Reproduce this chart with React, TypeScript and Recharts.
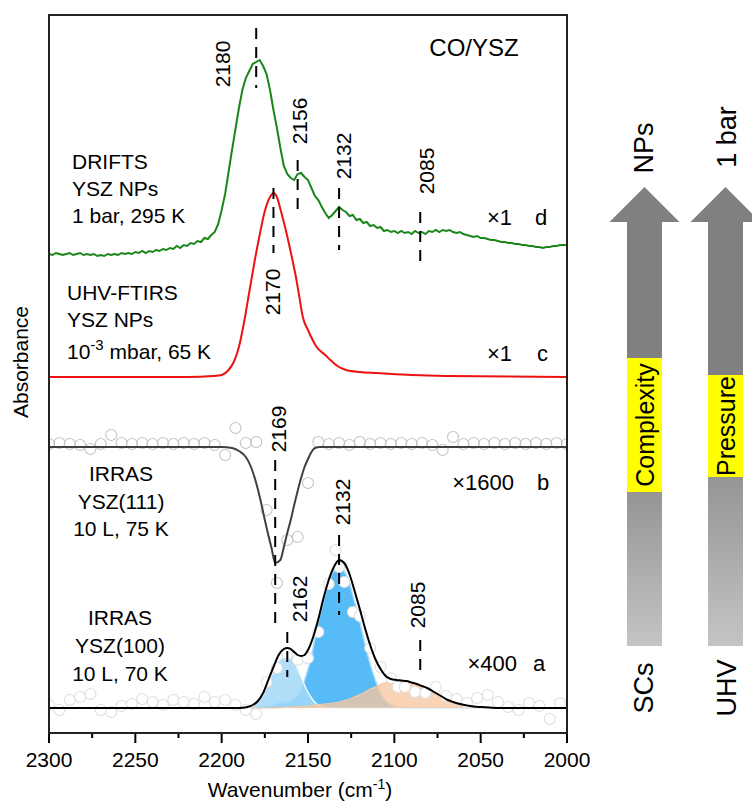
import React from 'react'
import {
  ComposedChart,
  XAxis,
  YAxis,
  Line,
  Area,
  ReferenceLine,
  ReferenceDot,
} from 'recharts'

const FONT = '"Liberation Sans", Arial, sans-serif'

// vertical offsets used to stack the four spectra (a.u.)
const OFFSET_A = 25
const OFFSET_B = 286
const OFFSET_C = 356
const OFFSET_D = 479

const X_TICKS = [2300, 2275, 2250, 2225, 2200, 2175, 2150, 2125, 2100, 2075, 2050, 2025, 2000]
const X_LABELS = [2300, 2250, 2200, 2150, 2100, 2050, 2000]

// d: DRIFTS, YSZ NPs, sampled every 2 cm-1 from 2300 down to 2000
const D_START = 2300
const D_STEP = 2
const D_ABS = [
  0, -1, 1, 0, -1, 0, 1, -1, 0, 1,
  -1, 0, -1, 0, -2, -1, -2, 0, -1, 0,
  -1, 1, 0, 1, 0, 2, 1, 3, 1, 3,
  2, 4, 3, 5, 4, 6, 5, 8, 6, 9,
  8, 11, 10, 13, 12, 16, 15, 19, 22, 30,
  44, 60, 82, 104, 125, 146, 164, 176, 183, 190,
  192, 194, 188, 180, 164, 144, 126, 106, 88, 80,
  76, 74, 80, 81, 77, 74, 66, 58, 54, 47,
  41, 36, 39, 43, 47, 44, 42, 38, 39, 34,
  35, 31, 32, 28, 29, 26, 27, 23, 24, 22,
  23, 21, 23, 21, 22, 20, 23, 21, 22, 20,
  23, 22, 24, 22, 24, 23, 24, 22, 21, 22,
  20, 19, 18, 17, 18, 16, 16, 15, 14, 14,
  13, 12, 12, 11, 11, 10, 10, 9, 9, 8,
  8, 7, 7, 6, 7, 7, 8, 8, 9, 9,
  9,
]

// c: UHV-FTIRS, YSZ NPs
const C_WN = [2300, 2250, 2220, 2205, 2200, 2196, 2193, 2190, 2187, 2184, 2181, 2178, 2175, 2172, 2170, 2168, 2166, 2163, 2160, 2157, 2155, 2153, 2150, 2147, 2145, 2140, 2137, 2133, 2128, 2120, 2110, 2090, 2070, 2000]
const C_ABS = [0, 0, 0, 1, 2, 7, 15, 30, 55, 85, 115, 142, 166, 180, 184, 180, 168, 148, 125, 100, 80, 60, 47, 36, 30, 22, 17, 11, 7, 5, 4, 2, 1, 0]

// b: IRRAS YSZ(111), fit and measured points
const B_FIT_WN = [2300, 2200, 2194, 2190, 2186, 2183, 2180, 2177, 2175, 2173, 2171, 2169, 2166, 2164, 2162, 2160, 2158, 2156, 2154, 2152, 2150, 2148, 2146, 2143, 2000]
const B_FIT_ABS = [0, 0, -1, -4, -10, -20, -36, -57, -73, -88, -102, -116, -113, -100, -86, -73, -58, -44, -31, -20, -12, -5, -1, 0, 0]
const B_PTS_WN = [
  2300, 2294, 2288, 2282, 2276, 2270, 2264, 2258, 2252, 2246, 2240, 2234, 2228, 2222, 2216, 2210, 2204,
  2198, 2192, 2186, 2180, 2174, 2168, 2162, 2156, 2150, 2144, 2138, 2132, 2126, 2120, 2114, 2108,
  2102, 2096, 2090, 2084, 2078, 2072, 2066, 2060, 2054, 2048, 2042, 2036, 2030, 2024, 2018, 2012, 2006, 2000,
]
const B_PTS_ABS = [
  3, 4, 3, 2, -2, 3, 12, 4, 3, 4, 3, 4, 3, 4, 3, 4, 2,
  -8, 19, 4, 5, -63, -136, -93, -90, -36, 5, 3, 4, 2, 5, 3, 4,
  3, 4, 3, 4, 2, -3, 10, 3, 4, 3, 4, 3, 4, 3, 4, 3, 4, 3,
]

// a: IRRAS YSZ(100), fit envelope, three components, measured points
const A_FIT_WN = [2300, 2190, 2185, 2182, 2179, 2176, 2173, 2170, 2167, 2164, 2162, 2160, 2158, 2156, 2154, 2152, 2150, 2147, 2144, 2141, 2138, 2135, 2132, 2129, 2126, 2123, 2120, 2117, 2114, 2111, 2108, 2105, 2102, 2099, 2096, 2093, 2090, 2087, 2084, 2081, 2078, 2075, 2072, 2069, 2066, 2062, 2058, 2054, 2050, 2045, 2040, 2000]
const A_FIT_ABS = [0, 0, 1, 3, 7, 15, 28, 41, 53, 59, 60, 59, 56, 53, 52, 53, 58, 71, 89, 110, 128, 141, 148, 145, 134, 117, 99, 80, 63, 49, 39, 32, 29, 28, 27.5, 27, 25.5, 24, 22, 20, 17, 14, 11, 8, 6, 4, 2.5, 1.5, 1, 0.5, 0, 0]

const A_2162_WN = [2300, 2188, 2185, 2182, 2179, 2176, 2173, 2170, 2167, 2164, 2162, 2160, 2157, 2154, 2151, 2148, 2145, 2142, 2139, 2135, 2000]
const A_2162_ABS = [0, 0, 0.5, 2, 6, 13, 25, 37, 47, 52, 53, 51, 43, 31, 19, 10, 4, 1.5, 0.5, 0, 0]

const A_2132_WN = [2300, 2180, 2175, 2170, 2167, 2164, 2160, 2157, 2154, 2151, 2148, 2145, 2142, 2139, 2136, 2132, 2129, 2126, 2123, 2120, 2117, 2114, 2111, 2108, 2105, 2102, 2099, 2096, 2092, 2000]
const A_2132_ABS = [0, 0, 1, 3, 5, 6, 7, 11, 19, 33, 52, 78, 100, 120, 134, 142, 137, 125, 106, 86, 64, 44, 28, 15, 7, 3, 1, 0.5, 0, 0]

const A_2085_WN = [2300, 2170, 2160, 2150, 2140, 2135, 2130, 2126, 2122, 2118, 2114, 2110, 2106, 2102, 2098, 2094, 2090, 2086, 2082, 2078, 2074, 2070, 2066, 2062, 2058, 2054, 2050, 2045, 2040, 2000]
const A_2085_ABS = [0, 0, 1, 2, 4, 5, 7, 9, 12, 15, 19, 22, 25, 26.5, 27, 26.5, 25, 23.5, 21, 17, 13.5, 10, 6.5, 4, 2.5, 1.5, 1, 0.5, 0, 0]

const A_PTS_WN = [
  2300, 2294, 2288, 2282, 2276, 2270, 2264, 2258, 2252, 2246, 2240, 2234, 2228, 2222, 2216, 2210, 2204,
  2198, 2192, 2186, 2180, 2174, 2168, 2162, 2156, 2150, 2144, 2138, 2134, 2132, 2129, 2124, 2120, 2114,
  2108, 2102, 2098, 2094, 2088, 2082, 2076, 2070, 2064, 2058, 2052, 2046, 2040, 2034, 2028, 2022, 2016, 2010, 2004,
]
const A_PTS_ABS = [
  3, -2, 8, 11, 14, -2, -4, 2, 4, 9, 6, 3, 8, 6, 4, 11, 6,
  8, 3, -2, -6, 26, 40, 54, 48, 50, 76, 124, 158, 141, 126, 96, 92, 60,
  41, 30, 21, 21, 16, 15, 21, 12, 9, 5, 10, 13, 6, 1, -2, 5, 2, -11, 5,
]

// band position markers: dashed line from y1 to y2, label centred at ly, shifted dx px
const MARKERS = [
  { wn: 2180, y1: 705, y2: 645, ly: 669, dx: -34 },
  { wn: 2156, y1: 573, y2: 516, ly: 612, dx: 2 },
  { wn: 2132, y1: 545, y2: 483, ly: 577, dx: 4 },
  { wn: 2085, y1: 521, y2: 465, ly: 562, dx: 6 },
  { wn: 2170, y1: 545, y2: 480, ly: 441, dx: -1 },
  { wn: 2169, y1: 273, y2: 103, ly: 304, dx: 3 },
  { wn: 2162, y1: 101, y2: 56, ly: 134, dx: 12 },
  { wn: 2132, y1: 198, y2: 118, ly: 231, dx: 3 },
  { wn: 2085, y1: 93, y2: 56, ly: 128, dx: -3 },
]

const pts = (wn: number[], abs: number[], offset: number) =>
  wn.map((w, i) => ({ wn: w, v: offset + abs[i] }))

const dData = D_ABS.map((a, i) => ({ wn: D_START - i * D_STEP, v: OFFSET_D + a }))
const cData = pts(C_WN, C_ABS, OFFSET_C)
const bFit = pts(B_FIT_WN, B_FIT_ABS, OFFSET_B)
const bPts = pts(B_PTS_WN, B_PTS_ABS, OFFSET_B)
const aFit = pts(A_FIT_WN, A_FIT_ABS, OFFSET_A)
const a2162 = pts(A_2162_WN, A_2162_ABS, OFFSET_A)
const a2132 = pts(A_2132_WN, A_2132_ABS, OFFSET_A)
const a2085 = pts(A_2085_WN, A_2085_ABS, OFFSET_A)
const aPts = pts(A_PTS_WN, A_PTS_ABS, OFFSET_A)

function XTick(props: any) {
  const { x, y, payload } = props
  const major = X_LABELS.includes(payload.value)
  return (
    <g>
      <line x1={x} x2={x} y1={y} y2={y + (major ? 10 : 5)} stroke="#000" strokeWidth={2} />
      {major && (
        <text x={x} y={y + 34} textAnchor="middle" fontSize={21} fontFamily={FONT} fill="#000">
          {payload.value}
        </text>
      )}
    </g>
  )
}

const rotLabel = (text: string, dx: number) => (p: any) => {
  const x = p.cx + dx
  return (
    <text
      x={x}
      y={p.cy}
      transform={`rotate(-90 ${x} ${p.cy})`}
      textAnchor="middle"
      dominantBaseline="central"
      fontSize={21}
      fontFamily={FONT}
      fill="#000"
    >
      {text}
    </text>
  )
}

// open circles for the measured IRRAS points
const circleDot = (fill: string, stroke: string) => (p: any) => (
  <circle key={`c${p.index}`} cx={p.cx} cy={p.cy} r={5.5} fill={fill} stroke={stroke} strokeWidth={1.1} />
)

function Arrow({ cx, yellowTop, yellowBottom }: { cx: number; yellowTop: number; yellowBottom: number }) {
  const half = 17.5
  return (
    <g>
      <polygon points={`${cx - 35},222 ${cx},187 ${cx + 35},222`} fill="#808080" />
      <rect x={cx - half} y={222} width={half * 2} height={yellowTop - 222} fill="#808080" />
      <rect x={cx - half} y={yellowTop} width={half * 2} height={yellowBottom - yellowTop} fill="#ffff00" />
      <rect x={cx - half} y={yellowBottom} width={half * 2} height={646 - yellowBottom} fill="url(#shaftLow)" />
    </g>
  )
}

function Overlay() {
  const t = { fontFamily: FONT, fill: '#000' }
  const rot = (x: number, y: number) => `rotate(-90 ${x} ${y})`
  return (
    <svg
      width={752}
      height={802}
      style={{ position: 'absolute', left: 0, top: 0, pointerEvents: 'none' }}
    >
      <defs>
        <linearGradient id="shaftLow" x1="0" y1="0" x2="0" y2="1">
          <stop offset="0" stopColor="#959595" />
          <stop offset="1" stopColor="#c4c4c4" />
        </linearGradient>
      </defs>
      <rect x={49} y={15} width={518} height={718} fill="none" stroke="#222" strokeWidth={2} />

      <text {...t} x={474} y={56} fontSize={24} textAnchor="middle">CO/YSZ</text>

      <g {...t} fontSize={21}>
        <text x={72} y={169}>DRIFTS</text>
        <text x={72} y={196}>YSZ NPs</text>
        <text x={72} y={223}>1 bar, 295 K</text>

        <text x={67} y={300}>UHV-FTIRS</text>
        <text x={67} y={327}>YSZ NPs</text>
        <text x={67} y={359}>
          10<tspan dy={-9} fontSize={15}>-3</tspan>
          <tspan dy={9}> mbar, 65 K</tspan>
        </text>

        <text x={121} y={481} textAnchor="middle">IRRAS</text>
        <text x={121} y={509} textAnchor="middle">YSZ(111)</text>
        <text x={121} y={536} textAnchor="middle">10 L, 75 K</text>

        <text x={120} y={625} textAnchor="middle">IRRAS</text>
        <text x={120} y={653} textAnchor="middle">YSZ(100)</text>
        <text x={120} y={681} textAnchor="middle">10 L, 70 K</text>
      </g>

      <g {...t} fontSize={22}>
        <text x={512} y={225} textAnchor="end">×1</text>
        <text x={535} y={225}>d</text>
        <text x={512} y={361} textAnchor="end">×1</text>
        <text x={537} y={361}>c</text>
        <text x={514} y={490} textAnchor="end">×1600</text>
        <text x={537} y={490}>b</text>
        <text x={517} y={671} textAnchor="end">×400</text>
        <text x={533} y={671}>a</text>
      </g>

      <text {...t} x={20} y={362} fontSize={21} textAnchor="middle" dominantBaseline="central" transform={rot(20, 362)}>
        Absorbance
      </text>
      <text {...t} x={300} y={797} fontSize={21} textAnchor="middle">
        Wavenumber (cm<tspan dy={-8} fontSize={14}>-1</tspan>
        <tspan dy={8}>)</tspan>
      </text>

      <Arrow cx={644.5} yellowTop={358} yellowBottom={492} />
      <Arrow cx={725.5} yellowTop={375} yellowBottom={477} />

      <g {...t} textAnchor="middle" dominantBaseline="central">
        <text x={645} y={425} fontSize={25} transform={rot(645, 425)}>Complexity</text>
        <text x={726} y={426} fontSize={25} transform={rot(726, 426)}>Pressure</text>
        <text x={644} y={148} fontSize={27} transform={rot(644, 148)}>NPs</text>
        <text x={727} y={137} fontSize={27} transform={rot(727, 137)}>1 bar</text>
        <text x={644} y={688} fontSize={27} transform={rot(644, 688)}>SCs</text>
        <text x={727} y={688} fontSize={27} transform={rot(727, 688)}>UHV</text>
      </g>
    </svg>
  )
}

export default function App() {
  return (
    <div style={{ position: 'absolute', left: 0, top: 0, width: 752, height: 802, background: '#fff' }}>
      <ComposedChart width={752} height={802} margin={{ top: 15, right: 185, bottom: 0, left: 0 }}>
        <XAxis
          dataKey="wn"
          type="number"
          domain={[2000, 2300]}
          reversed
          ticks={X_TICKS}
          interval={0}
          height={69}
          tickLine={false}
          tickSize={0}
          tickMargin={0}
          tick={<XTick />}
          axisLine={{ stroke: '#000', strokeWidth: 2 }}
          allowDataOverflow
        />
        <YAxis
          dataKey="v"
          type="number"
          domain={[0, 718]}
          width={49}
          tick={false}
          tickLine={false}
          axisLine={{ stroke: '#000', strokeWidth: 2 }}
          allowDataOverflow
        />

        {/* a: fitted components */}
        <Area data={a2132} dataKey="v" type="monotone" baseValue={OFFSET_A} fill="#56bbf7" fillOpacity={1} stroke="#a9ddfb" strokeWidth={1.5} isAnimationActive={false} />
        <Area data={a2162} dataKey="v" type="monotone" baseValue={OFFSET_A} fill="#a2d8f8" fillOpacity={0.85} stroke="#eaf7ff" strokeWidth={1.5} isAnimationActive={false} />
        <Area data={a2085} dataKey="v" type="monotone" baseValue={OFFSET_A} fill="#f6c6a0" fillOpacity={0.78} stroke="#f3c7a8" strokeWidth={1.2} isAnimationActive={false} />
        <Line data={aPts} dataKey="v" stroke="none" strokeWidth={0} dot={circleDot('#fff', '#dedede')} activeDot={false} isAnimationActive={false} />
        <Line data={aFit} dataKey="v" type="monotone" stroke="#000" strokeWidth={2} dot={false} isAnimationActive={false} zIndex={900} />

        {/* b */}
        <Line data={bPts} dataKey="v" stroke="none" strokeWidth={0} dot={circleDot('none', '#c4c4c4')} activeDot={false} isAnimationActive={false} />
        <Line data={bFit} dataKey="v" type="monotone" stroke="#404040" strokeWidth={2} dot={false} isAnimationActive={false} zIndex={900} />

        {/* c */}
        <Line data={cData} dataKey="v" type="monotone" stroke="#ee1111" strokeWidth={2} dot={false} isAnimationActive={false} />

        {/* d */}
        <Line data={dData} dataKey="v" type="linear" stroke="#1a861a" strokeWidth={2} dot={false} isAnimationActive={false} />

        {MARKERS.map((m, i) => (
          <ReferenceLine
            key={`l${i}`}
            segment={[{ x: m.wn, y: m.y1 }, { x: m.wn, y: m.y2 }]}
            stroke="#000"
            strokeWidth={2}
            strokeDasharray="11 8"
            zIndex={950}
          />
        ))}
        {MARKERS.map((m, i) => (
          <ReferenceDot key={`t${i}`} x={m.wn} y={m.ly} r={0} shape={rotLabel(String(m.wn), m.dx)} zIndex={950} />
        ))}
      </ComposedChart>
      <Overlay />
    </div>
  )
}
